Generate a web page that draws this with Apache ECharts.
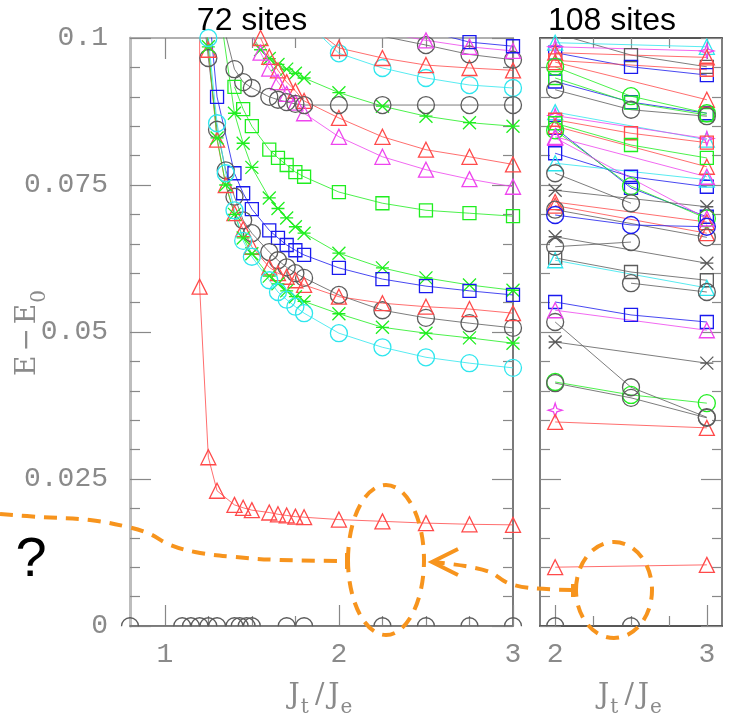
<!DOCTYPE html>
<html lang="en">
<head>
<meta charset="UTF-8" />
<title>E - E0 vs Jt/Je</title>
<script src="https://cdn.jsdelivr.net/npm/echarts@6/dist/echarts.min.js"></script>
<style>
  html, body { margin: 0; padding: 0; background: #fff; }
  #main { width: 729px; height: 720px; }
</style>
</head>
<body>
<div id="main"></div>
<script>
// ---- 72 sites : [Jt/Je, E-E0] ----
var redLow72 = [[1.2,0.13],[1.2,0.0577],[1.25,0.0287],[1.3,0.023],[1.4,0.0206],[1.45,0.0201],[1.5,0.0197],[1.6,0.0193],[1.65,0.019],[1.7,0.0188],[1.75,0.0186],[1.8,0.0185],[2,0.0181],[2.25,0.0178],[2.5,0.0175],[2.75,0.0173],[3,0.0172]];
var zeroX72 = [0.8,1.1,1.15,1.2,1.25,1.3,1.4,1.43,1.47,1.5,1.7,1.8,2.25,2.5,2.75,3];
var cyanTop72 = [[1.75,0.1045],[2,0.0974],[2.25,0.0949],[2.5,0.0932],[2.75,0.092],[3,0.0915]];
var redTop72 = [[1.75,0.104],[2,0.0983],[2.25,0.0966],[2.5,0.0954],[2.75,0.0949],[3,0.0945]];
var grayTop72 = [[2,0.1025],[2.25,0.1003],[2.5,0.0988],[2.75,0.0972],[3,0.0963]];
var magTop72 = [[2,0.104],[2.25,0.101],[2.5,0.0996],[2.75,0.0985],[3,0.0978]];
var blueTop72 = [[2.5,0.1012],[2.75,0.0993],[3,0.0986]];
var greenAstTop72 = [[1.5,0.1005],[1.55,0.098],[1.6,0.0965],[1.65,0.0955],[1.7,0.0947],[1.75,0.094],[1.8,0.0932],[2,0.0907],[2.25,0.0884],[2.5,0.0867],[2.75,0.0856],[3,0.085]];
var redMid72 = [[1.55,0.1],[1.6,0.0968],[1.65,0.0945],[1.7,0.0925],[1.75,0.091],[1.8,0.0893],[2,0.0864],[2.25,0.0832],[2.5,0.081],[2.75,0.0798],[3,0.0785]];
var magMid72 = [[1.5,0.1005],[1.55,0.0975],[1.6,0.0948],[1.65,0.0925],[1.7,0.0905],[1.75,0.089],[1.8,0.0872],[2,0.0832],[2.25,0.0798],[2.5,0.0776],[2.75,0.076],[3,0.0747]];
var grayFlat72 = [[1.35,0.1005],[1.4,0.0947],[1.45,0.0925],[1.5,0.0915],[1.6,0.09],[1.65,0.0895],[1.7,0.0891],[1.75,0.0888],[1.8,0.0886],[2,0.0886],[2.25,0.0886],[2.5,0.0886],[2.75,0.0886],[3,0.0886]];
var greenSq72 = [[1.4,0.0917],[1.45,0.0879],[1.5,0.085],[1.6,0.081],[1.65,0.0796],[1.7,0.0784],[1.75,0.0772],[1.8,0.0764],[2,0.0738],[2.25,0.0719],[2.5,0.0707],[2.75,0.0702],[3,0.0697]];
var greenAstMid72 = [[1.3,0.108],[1.4,0.0872],[1.45,0.0821],[1.5,0.078],[1.6,0.0728],[1.65,0.071],[1.7,0.0694],[1.75,0.0679],[1.8,0.0668],[2,0.0634],[2.25,0.0609],[2.5,0.0592],[2.75,0.058],[3,0.0571]];
var blueSq72 = [[1.25,0.106],[1.3,0.09],[1.4,0.077],[1.45,0.0736],[1.5,0.0709],[1.6,0.0673],[1.65,0.066],[1.7,0.0648],[1.75,0.0639],[1.8,0.0631],[2,0.0609],[2.25,0.059],[2.5,0.0578],[2.75,0.057],[3,0.0563]];
var grayMid72 = [[1.2,0.11],[1.25,0.0966],[1.3,0.0844],[1.35,0.0775],[1.4,0.073],[1.45,0.069],[1.5,0.0668],[1.6,0.0636],[1.65,0.0622],[1.7,0.061],[1.75,0.06],[1.8,0.0592],[2,0.0563],[2.25,0.0537],[2.5,0.0524],[2.75,0.0515],[3,0.0507]];
var redLowMid72 = [[1.2,0.115],[1.25,0.098],[1.3,0.0827],[1.35,0.075],[1.4,0.0702],[1.45,0.0675],[1.5,0.0645],[1.6,0.061],[1.65,0.06],[1.7,0.0594],[1.75,0.0588],[1.8,0.058],[2,0.056],[2.25,0.0549],[2.5,0.0543],[2.75,0.0539],[3,0.0532]];
var greenAstLow72 = [[1.2,0.115],[1.25,0.0985],[1.3,0.083],[1.35,0.075],[1.4,0.07],[1.45,0.066],[1.5,0.0633],[1.6,0.0595],[1.65,0.0582],[1.7,0.057],[1.75,0.056],[1.8,0.0552],[2,0.0531],[2.25,0.0508],[2.5,0.0498],[2.75,0.049],[3,0.0481]];
var cyanLow72 = [[1.2,0.115],[1.25,0.1],[1.3,0.0855],[1.35,0.077],[1.4,0.0707],[1.45,0.0655],[1.5,0.0628],[1.6,0.0588],[1.65,0.0568],[1.7,0.0555],[1.75,0.0543],[1.8,0.0532],[2,0.0498],[2.25,0.0474],[2.5,0.0457],[2.75,0.0447],[3,0.0439]];

// ---- 108 sites : E-E0 at Jt/Je = 2, 2.5, 3 (null = no point) ----
var x108 = [2, 2.5, 3];
var blackSq108 = [[0.1008,0.0971,0.0951],[0.0626,0.0602,0.0588]];
var blueSq108 = [[0.0975,0.0951,0.0937],[0.0926,0.0891,0.0872],[0.0847,0.0745,0.0696],[0.0804,0.0764,0.0747],[0.0551,0.0529,0.0517]];
var cyanTri108 = [[0.0992,null,0.0985],[0.0874,null,0.0827],[0.0787,null,0.0759],[0.0622,null,0.0575]];
var magStar108 = [[0.0985,null,0.0978],[0.0868,null,0.0829],[0.0367,null,null]];
var redTri108 = [[0.0975,null,0.0967],[0.0959,null,0.0895],[0.085,null,0.0781],[0.0721,null,0.0687],[0.0715,null,0.0668],[0.0347,null,0.0337],[0.01,null,0.0104]];
var redSq108 = [[0.0962,null,0.0946],[0.0861,0.0838,0.0822]];
var greenCirc108 = [[0.0951,0.0901,0.0872],[0.0843,0.0748,0.0693],[0.0415,0.0393,0.0379]];
var greenSq108 = [[0.0932,0.089,0.0869],[0.0855,0.0818,0.0796]];
var grayCirc108 = [[0.0912,0.0878,0.0867],[0.077,0.0719,null],[0.0708,null,0.0661],[0.0645,0.0653,null],[null,0.0583,0.0568],[0.0517,0.0406,0.0355],[0.0413,0.0388,0.0354]];
var grayAst108 = [[0.0741,null,0.0713],[0.0662,null,0.0617],[0.0483,null,0.0447]];
var magTri108 = [[0.0832,null,0.0764],[0.083,null,0.0693],[0.0537,null,0.0503]];
var blueCirc108 = [[0.0699,0.0682,0.0679]];
var zero108 = [0, 0, null];

var COLORS = { red: '#ff4a4a', green: '#1fee1f', blue: '#1a1aee', cyan: '#2ee6ee', mag: '#ee44ee', gray: '#5c5c5c' };
var SHAPES = {
  circ: 'circle', tri: 'triangle', sq: 'rect',
  ast: 'path://M0,0L10,10M10,0L0,10M0,5L10,5',
  star: 'path://M5,0L6.2,3.8L10,5L6.2,6.2L5,10L3.8,6.2L0,5L3.8,3.8Z',
  // upper half of a circle, for points sitting on the E-E0 = 0 axis
  half: 'path://M0,10C0,4.477 4.477,0 10,0C15.523,0 20,4.477 20,10'
};
var SIZES = { circ: 17, tri: 15, sq: 13, ast: 13, star: 14, half: 17 };

function mk(data, color, shape, right) {
  var s = {
    type: 'line',
    xAxisIndex: right ? 4 : 0,
    yAxisIndex: right ? 2 : 0,
    data: data,
    symbol: SHAPES[shape],
    symbolSize: SIZES[shape],
    showAllSymbol: true,
    connectNulls: true,
    clip: true,
    silent: true,
    animation: false,
    itemStyle: { color: 'rgba(0,0,0,0)', borderColor: COLORS[color], borderWidth: 1.3 },
    lineStyle: { color: COLORS[color], width: 1, opacity: 0.8 }
  };
  if (shape === 'half') {
    s.symbolKeepAspect = true;
    s.symbolOffset = [0, -4];
  }
  return s;
}

function rows108(rows, color, shape) {
  return rows.map(function (r) {
    return mk(r.map(function (v, i) { return [x108[i], v]; }), color, shape, true);
  });
}

var series = [
  mk(zeroX72.map(function (x) { return [x, 0]; }), 'gray', 'half'),
  mk(redLow72, 'red', 'tri'),
  mk(cyanTop72, 'cyan', 'circ'),
  mk(redTop72, 'red', 'tri'),
  mk(grayTop72, 'gray', 'circ'),
  mk(magTop72, 'mag', 'tri'),
  mk(blueTop72, 'blue', 'sq'),
  mk(greenAstTop72, 'green', 'ast'),
  mk(redMid72, 'red', 'tri'),
  mk(magMid72, 'mag', 'tri'),
  mk(grayFlat72, 'gray', 'circ'),
  mk(greenSq72, 'green', 'sq'),
  mk(greenAstMid72, 'green', 'ast'),
  mk(blueSq72, 'blue', 'sq'),
  mk(grayMid72, 'gray', 'circ'),
  mk(redLowMid72, 'red', 'tri'),
  mk(greenAstLow72, 'green', 'ast'),
  mk(cyanLow72, 'cyan', 'circ'),
  mk(zero108.map(function (v, i) { return [x108[i], v]; }), 'gray', 'half', true)
].concat(
  rows108(blackSq108, 'gray', 'sq'),
  rows108(blueSq108, 'blue', 'sq'),
  rows108(cyanTri108, 'cyan', 'tri'),
  rows108(magStar108, 'mag', 'star'),
  rows108(redTri108, 'red', 'tri'),
  rows108(redSq108, 'red', 'sq'),
  rows108(greenCirc108, 'green', 'circ'),
  rows108(greenSq108, 'green', 'sq'),
  rows108(grayCirc108, 'gray', 'circ'),
  rows108(grayAst108, 'gray', 'ast'),
  rows108(magTri108, 'mag', 'tri'),
  rows108(blueCirc108, 'blue', 'circ')
);

var labelFont = { fontFamily: 'Liberation Mono', fontSize: 28, color: '#8a8a8a' };
// subscript: taller line box for the small token pushes it below the big ones
var nameRich = {
  n: { fontFamily: 'DejaVu Serif', fontSize: 28, color: '#8a8a8a', lineHeight: 30, verticalAlign: 'top' },
  m: { fontFamily: 'DejaVu Serif', fontSize: 28, color: '#8a8a8a', lineHeight: 30, verticalAlign: 'top', padding: [0, 4, 0, 4] },
  s: { fontFamily: 'DejaVu Serif', fontSize: 20, color: '#8a8a8a', lineHeight: 52, verticalAlign: 'middle', padding: [0, 2, 0, 1] }
};

function xAx(grid, min, max, pos, ticks, len, lineColor, labels) {
  var a = {
    type: 'value', gridIndex: grid, min: min, max: max, position: pos,
    splitLine: { show: false },
    axisLine: { show: !!lineColor, onZero: false, lineStyle: { color: lineColor || '#888', width: 2 } },
    axisTick: { inside: true, length: len, customValues: ticks, lineStyle: { color: '#888', width: 1.2 } },
    axisLabel: { show: false }
  };
  if (labels) {
    a.axisLabel = { show: true, customValues: labels, margin: 15, fontFamily: labelFont.fontFamily, fontSize: labelFont.fontSize, color: labelFont.color };
    a.name = '{n|J}{s|t}{m|/}{n|J}{s|e}';
    a.nameLocation = 'middle';
    a.nameGap = 56;
    a.nameMoveOverlap = false;
    a.nameTextStyle = { fontSize: 28, rich: nameRich };
  }
  return a;
}

function yAx(grid, pos, lineColor, lineWidth, withLabels) {
  var a = {
    type: 'value', gridIndex: grid, position: pos, min: 0, max: 0.1, interval: 0.025,
    splitLine: { show: false },
    axisLine: { show: true, onZero: false, lineStyle: { color: lineColor, width: lineWidth } },
    axisTick: { inside: true, length: 21, lineStyle: { color: '#888', width: 1.2 } },
    minorTick: { show: true, splitNumber: 5, length: 10, lineStyle: { color: '#888', width: 1.2 } },
    axisLabel: { show: false }
  };
  if (withLabels) {
    a.axisLabel = {
      show: true, margin: 22, fontFamily: labelFont.fontFamily, fontSize: labelFont.fontSize, color: labelFont.color,
      formatter: function (v) { return String(Number(v.toFixed(3))); }
    };
    a.name = '{n|E}{m|\u2212}{n|E}{s|0}';
    a.nameLocation = 'middle';
    a.nameRotate = 90;
    a.nameGap = 64;
    a.nameMoveOverlap = false;
    a.nameTextStyle = { fontSize: 28, rich: nameRich };
  }
  return a;
}

var orange = '#f7941d';
var dashed = { stroke: orange, lineWidth: 4, lineDash: [13, 9], fill: null };
var solid = { stroke: orange, lineWidth: 4, fill: null };

var chart = echarts.init(document.getElementById('main'));
chart.setOption({
  animation: false,
  backgroundColor: '#fff',
  grid: [
    { left: 130, top: 38, width: 383, height: 588, containLabel: false, outerBoundsMode: 'none' },
    { left: 540, top: 38, width: 182, height: 588, containLabel: false, outerBoundsMode: 'none' }
  ],
  xAxis: [
    xAx(0, 0.8, 3, 'bottom', [1, 2, 3], 21, '#8c8c8c', [1, 2, 3]),
    xAx(0, 0.8, 3, 'bottom', [1.25, 1.5, 1.75, 2.25, 2.5, 2.75], 10, null),
    xAx(0, 0.8, 3, 'top', [1, 2, 3], 21, '#b0b0b0'),
    xAx(0, 0.8, 3, 'top', [1.25, 1.5, 1.75, 2.25, 2.5, 2.75], 10, null),
    xAx(1, 1.9, 3.1, 'bottom', [2, 3], 21, '#555', [2, 3]),
    xAx(1, 1.9, 3.1, 'bottom', [2.25, 2.5, 2.75], 10, null),
    xAx(1, 1.9, 3.1, 'top', [2, 3], 21, '#555'),
    xAx(1, 1.9, 3.1, 'top', [2.25, 2.5, 2.75], 10, null)
  ],
  yAxis: [
    yAx(0, 'left', '#bdbdbd', 3, true),
    yAx(0, 'right', '#7a7a7a', 2, false),
    yAx(1, 'left', '#555', 1.5, false),
    yAx(1, 'right', '#555', 1.5, false)
  ],
  series: series,
  graphic: [
    { type: 'text', x: 252, y: 21, z: 100, style: { text: '72 sites', font: '32px "Liberation Sans"', fill: '#000', align: 'center', verticalAlign: 'middle' } },
    { type: 'text', x: 612, y: 21, z: 100, style: { text: '108 sites', font: '32px "Liberation Sans"', fill: '#000', align: 'center', verticalAlign: 'middle' } },
    { type: 'text', x: 31, y: 561, z: 100, style: { text: '?', font: '56px "Liberation Sans"', fill: '#000', align: 'center', verticalAlign: 'middle' } },
    { type: 'polyline', z: 100, shape: { points: [[0, 514], [40, 517], [90, 520], [128, 527], [150, 534], [168, 544], [195, 552], [235, 557], [280, 560], [346, 561]], smooth: 0.4 }, style: dashed },
    { type: 'line', z: 100, shape: { x1: 347, y1: 553, x2: 347, y2: 569 }, style: solid },
    { type: 'ellipse', z: 100, shape: { cx: 386, cy: 560, rx: 38, ry: 75 }, style: dashed },
    { type: 'ellipse', z: 100, shape: { cx: 614, cy: 590, rx: 38, ry: 48 }, style: dashed },
    { type: 'polyline', z: 100, shape: { points: [[572, 590], [530, 588], [508, 583], [490, 572], [465, 566], [433, 562]], smooth: 0.3 }, style: dashed },
    { type: 'polyline', z: 100, shape: { points: [[458, 549], [432, 562], [458, 575]] }, style: solid },
    { type: 'line', z: 100, shape: { x1: 573, y1: 584, x2: 573, y2: 597 }, style: solid }
  ]
});
</script>
</body>
</html>
